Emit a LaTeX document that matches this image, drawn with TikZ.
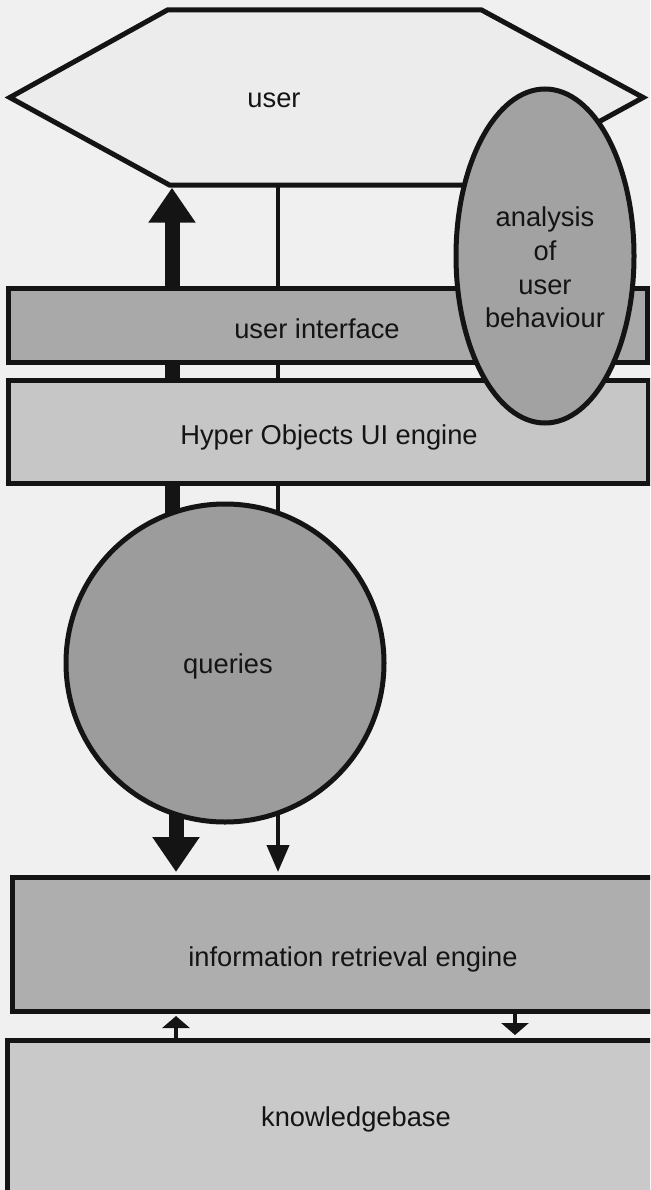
\documentclass[tikz,border=0pt]{standalone}
\usepackage{fontspec}
\setmainfont{Liberation Sans}
\usetikzlibrary{arrows.meta,shapes.geometric}
\definecolor{bgc}{HTML}{F0F0F0}
\definecolor{hexc}{HTML}{ECECEC}
\definecolor{uic}{HTML}{A9A9A9}
\definecolor{hoc}{HTML}{C6C6C6}
\definecolor{qc}{HTML}{9C9C9C}
\definecolor{abc}{HTML}{A2A2A2}
\definecolor{irc}{HTML}{AEAEAE}
\definecolor{kbc}{HTML}{C9C9C9}
\definecolor{ink}{HTML}{141414}
\pgfdeclarelayer{lines}
\pgfsetlayers{lines,main}
\begin{document}
\begin{tikzpicture}[x=1pt,y=-1pt,
  box/.style={draw=ink,line width=5pt,inner sep=0pt,rectangle},
  lbl/.style={font=\fontsize{27.3}{33.3}\selectfont,text=ink,inner sep=0pt,anchor=base},
  bigarrow/.style={draw=ink,line width=15pt,-{Triangle[width=45pt,length=35pt]}},
  thinline/.style={draw=ink,line width=4pt},
  thinarrow/.style={draw=ink,line width=4pt,-{Triangle[width=22pt,length=27pt]}},
  smallarrow/.style={draw=ink,line width=4pt,-{Triangle[width=27pt,length=12pt]}}]
\begin{pgfonlayer}{lines}
\fill[bgc] (0,0) rectangle (650,1190);
\end{pgfonlayer}
\useasboundingbox (0,0) rectangle (650,1190);
\clip (0,0) rectangle (650,1190);
% user hexagon
\node[inner sep=0pt,minimum width=633pt,minimum height=175pt] (user) at (326.5,97.5) {};
\filldraw[draw=ink,fill=hexc,line width=5pt,line join=miter]
  (user.west) -- ([xshift=158pt]user.north west) -- ([xshift=-162pt]user.north east)
  -- (user.east) -- ([xshift=-160pt]user.south east) -- ([xshift=160pt]user.south west) -- cycle;
\node[lbl] (usertext) at (274,108) {user};
% boxes
\node[box,fill=uic,minimum width=639pt,minimum height=74pt] (ui) at (327.5,325) {};
\node[lbl] (uitext) at (317,338) {user interface};
\node[box,fill=hoc,minimum width=640pt,minimum height=103pt] (ho) at (328,431.5) {};
\node[lbl] (hotext) at (329,444) {Hyper Objects UI engine};
\node[box,circle,fill=qc,minimum size=318pt] (q) at (225,663) {};
\node[lbl] (qtext) at (228,673) {queries};
\node[box,fill=irc,minimum width=648pt,minimum height=134pt] (ir) at (336,944) {};
\node[lbl] (irtext) at (353,966) {information retrieval engine};
\node[box,fill=kbc,minimum width=653pt,minimum height=160pt] (kb) at (333.5,1120) {};
\node[lbl] (kbtext) at (356,1126) {knowledgebase};
% column coordinates
\coordinate (cA) at (172,0);
\coordinate (cB) at (278,0);
\coordinate (cC) at (176,0);
\coordinate (cD) at (515,0);
% connectors behind the boxes
\begin{pgfonlayer}{lines}
\draw[bigarrow] (cA |- q.center) -- ([yshift=-2.5pt]cA |- user.south);
\draw[bigarrow] (cC |- q.center) -- ([yshift=2.5pt]cC |- ir.north);
\draw[thinline] (cB |- user.south) -- (cB |- q.center);
\draw[thinarrow] (cB |- q.center) -- ([yshift=2.5pt]cB |- ir.north);
\end{pgfonlayer}
\draw[smallarrow] (cC |- kb.north) -- ([yshift=-2.5pt]cC |- ir.south);
\draw[smallarrow] (cD |- ir.south) -- ([yshift=2.5pt]cD |- kb.north);
% analysis ellipse
\node[box,ellipse,fill=abc,minimum width=178pt,minimum height=334pt] (ab) at (545,256) {};
\node[lbl] (ab1) at (545,227) {analysis};
\node[lbl] (ab2) at (545,260) {of};
\node[lbl] (ab3) at (545,294) {user};
\node[lbl] (ab4) at (545,327) {behaviour};
\end{tikzpicture}
\end{document}
